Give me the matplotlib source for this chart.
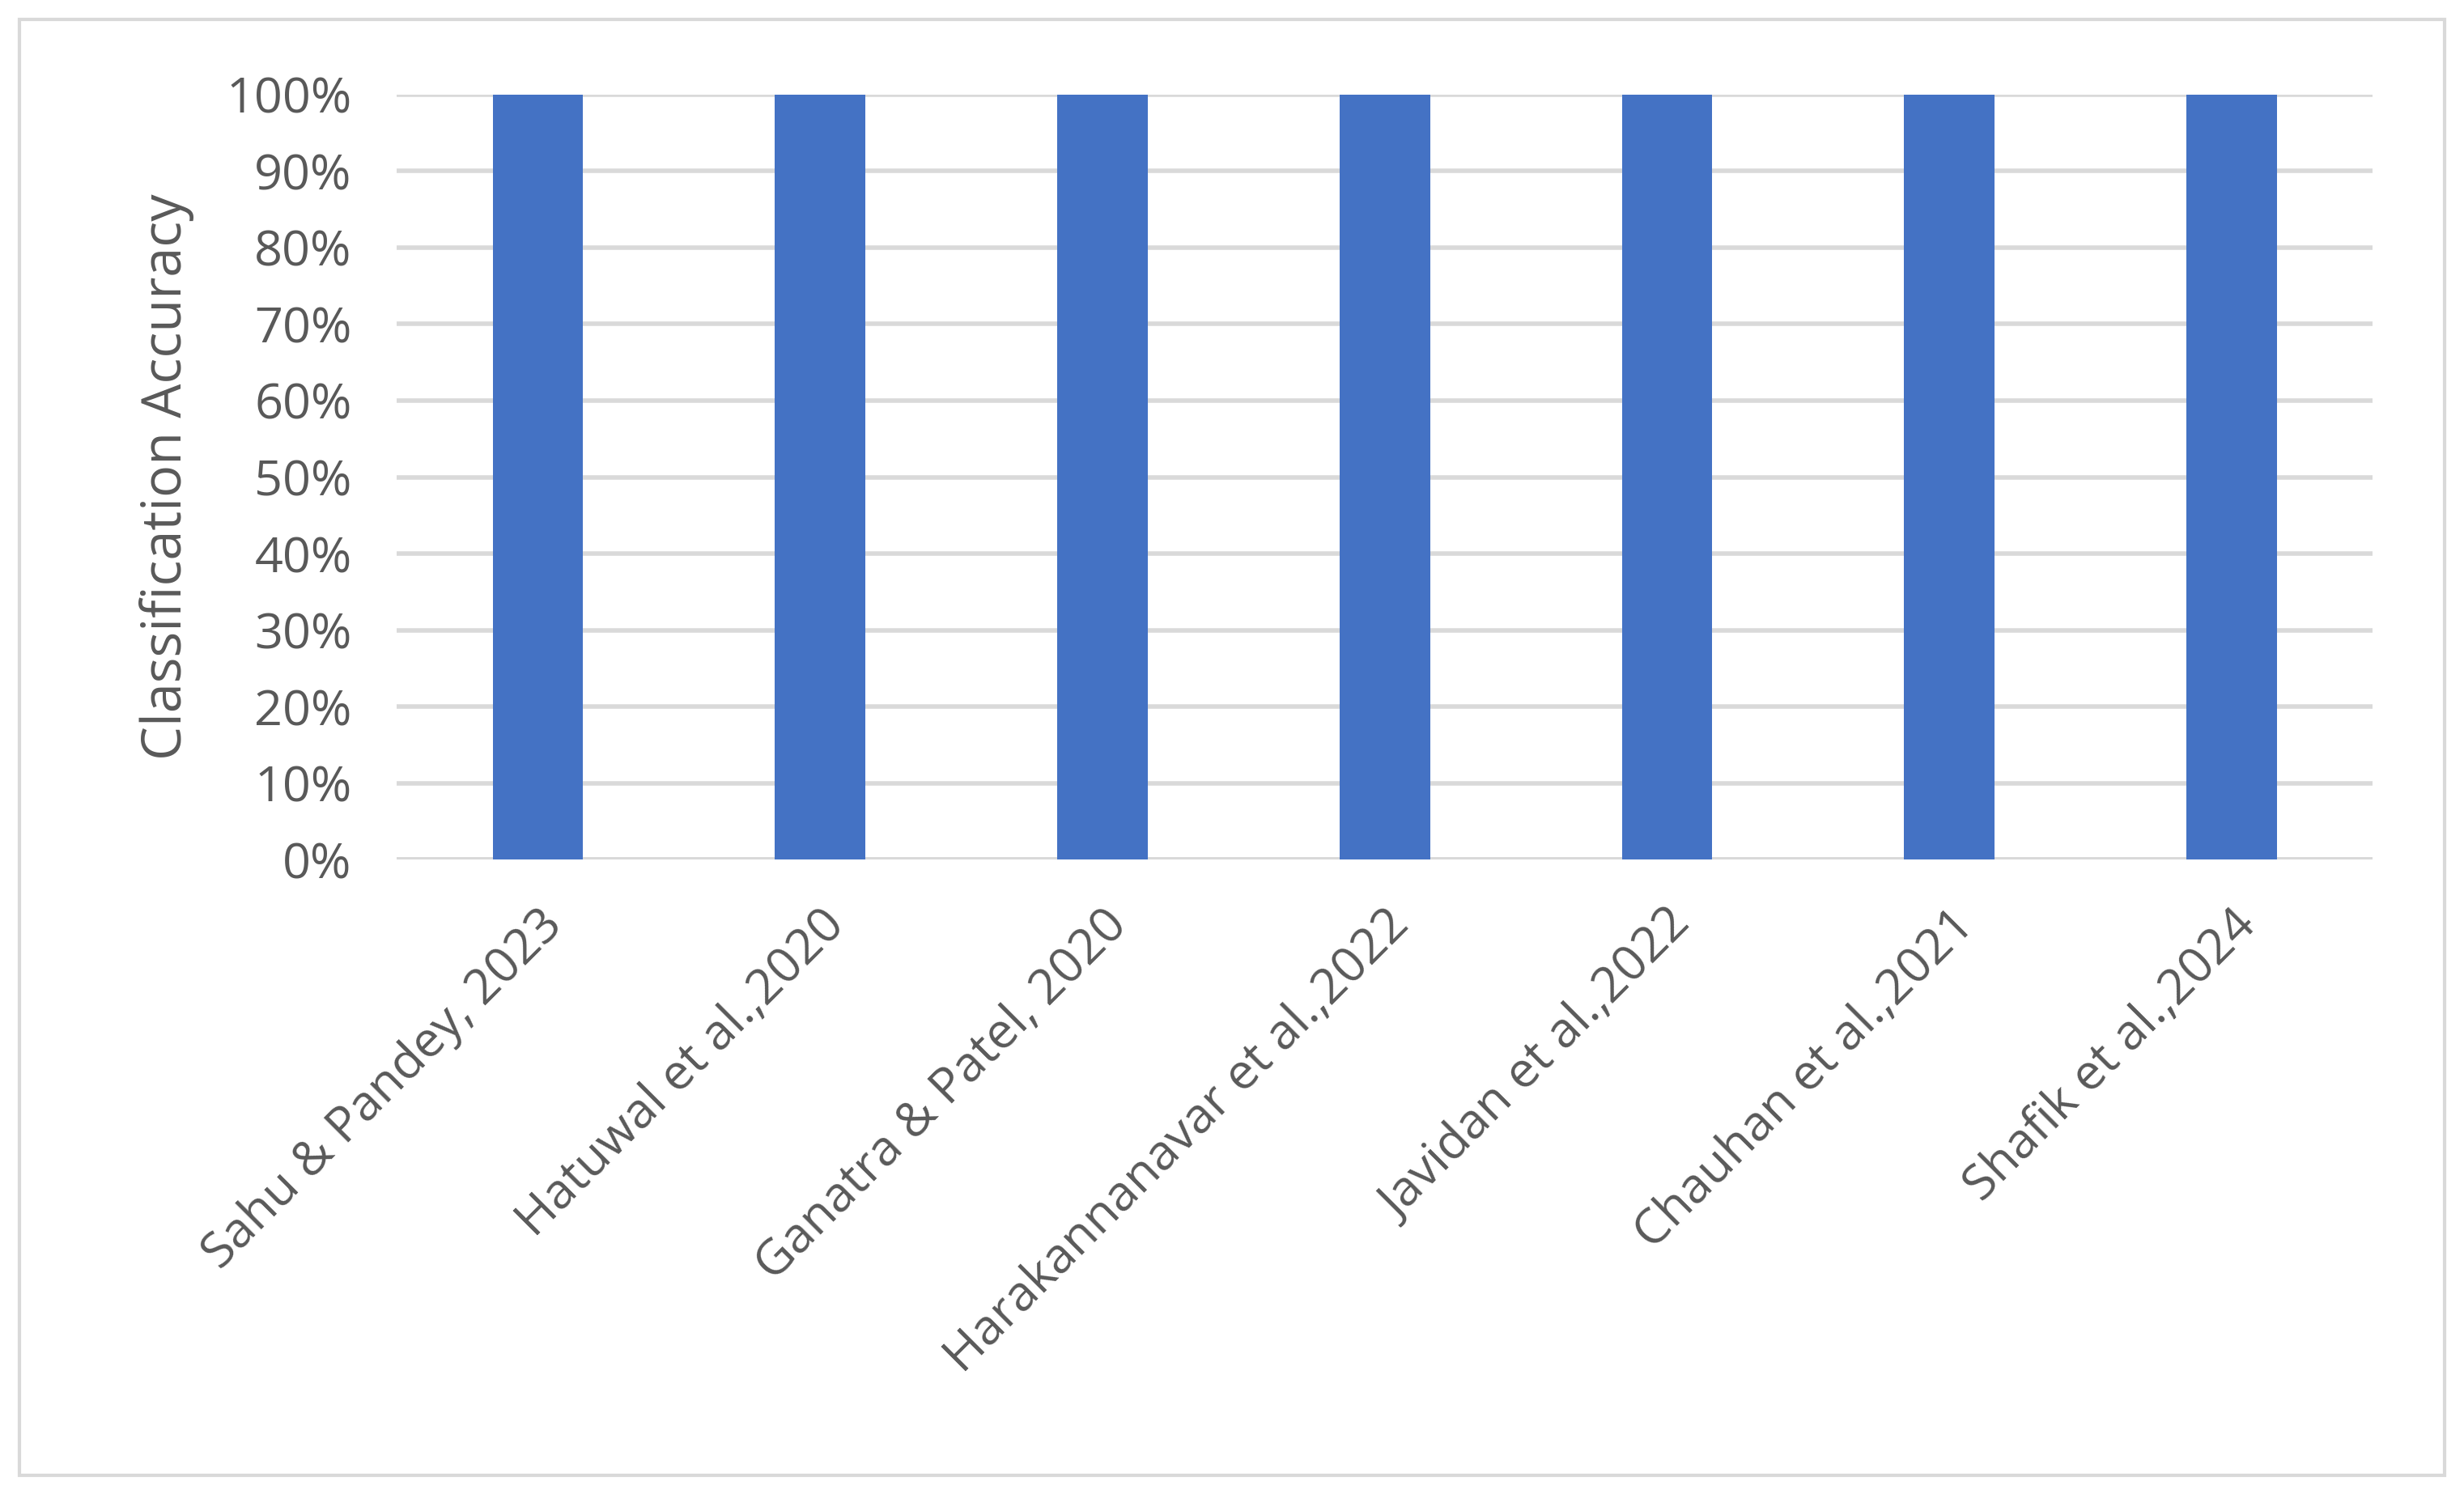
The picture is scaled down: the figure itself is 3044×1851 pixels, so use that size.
import matplotlib
matplotlib.use("Agg")
from matplotlib import pyplot as plt
from matplotlib.patches import Rectangle
from matplotlib.ticker import PercentFormatter

studies = ["Sahu & Pandey, 2023", "Hatuwal et al.,2020", "Ganatra & Patel, 2020",
           "Harakannanavar et al.,2022", "Javidan et al.,2022", "Chauhan et al.,2021",
           "Shafik et al.,2024"]
accuracy = [1.0, 1.0, 1.0, 1.0, 1.0, 1.0, 1.0]
yticks = [0.0, 0.1, 0.2, 0.3, 0.4, 0.5, 0.6, 0.7, 0.8, 0.9, 1.0]

plt.rcParams['font.family'] = ['Open Sans', 'DejaVu Sans']
textColor = '#595959'

fig = plt.figure(figsize=(15.22, 9.255), dpi=200)
fig.patches.append(Rectangle((0.008, 0.015), 0.984, 0.972, transform=fig.transFigure,
                             fill=False, edgecolor='#d9d9d9', linewidth=1.5))
ax = fig.add_axes([0.161, 0.426, 0.802, 0.511])

ax.bar(range(len(studies)), accuracy, 0.32, color='#4472C4', zorder=3)
ax.set_xlim(-0.5, len(studies) - 0.5)
ax.set_ylim(0, 1.0)
ax.set_yticks(yticks)
ax.yaxis.set_major_formatter(PercentFormatter(1.0, decimals=0))
ax.grid(axis='y', color='#d9d9d9', linewidth=2, zorder=0)
ax.set_xticks(range(len(studies)))
ax.set_xticklabels(studies, rotation=45, ha='right', rotation_mode='anchor')
ax.tick_params(axis='both', length=0, labelsize=22, colors=textColor)
ax.tick_params(axis='y', pad=20)
ax.tick_params(axis='x', pad=18)
for s in ax.spines.values():
    s.set_visible(False)
ax.axhline(0, color='#d9d9d9', linewidth=2, zorder=2)
ax.set_ylabel('Classification Accuracy', fontsize=24, color=textColor, labelpad=14)

fig.savefig("out.png", dpi=200)
